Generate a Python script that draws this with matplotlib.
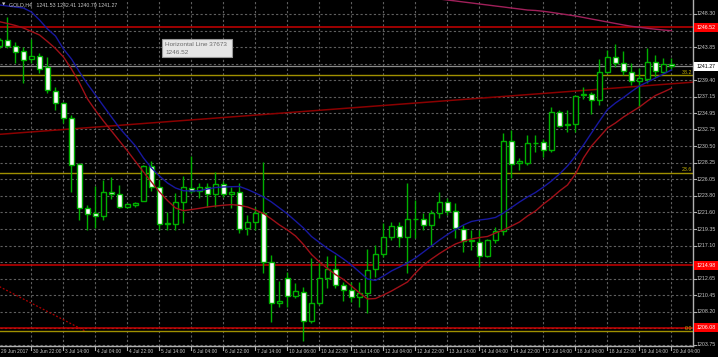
import matplotlib
matplotlib.use("Agg")
import matplotlib.pyplot as plt
import matplotlib.transforms as mtransforms
from matplotlib.patches import Rectangle

plt.rcParams['font.family'] = ['Liberation Sans', 'DejaVu Sans']

# GOLD H4 candles, one entry per bar
opens = [1243.99, 1244.80, 1244.03, 1243.32, 1242.20, 1242.64, 1241.20, 1237.97, 1236.28, 1234.26,
         1228.07, 1222.14, 1221.47, 1221.15, 1224.38, 1224.03, 1222.36, 1222.55, 1223.17, 1227.84,
         1225.05, 1219.99, 1220.03, 1223.03, 1224.84, 1224.47, 1224.97, 1224.07, 1225.42, 1224.03,
         1224.30, 1219.45, 1220.26, 1221.47, 1214.88, 1209.36, 1212.72, 1210.38, 1210.92, 1206.98,
         1209.36, 1212.72, 1213.97, 1211.82, 1211.15, 1210.25, 1210.70, 1213.93, 1215.95, 1218.24,
         1219.72, 1218.24, 1220.66, 1220.70, 1219.90, 1221.47, 1222.95, 1221.82, 1219.36, 1217.78,
         1217.65, 1215.77, 1217.88, 1219.13, 1231.24, 1228.20, 1228.20, 1230.89, 1231.11, 1229.99,
         1235.15, 1233.32, 1233.45, 1237.35, 1237.49, 1236.72, 1240.53, 1242.55, 1241.66, 1240.53,
         1239.28, 1239.55, 1241.80, 1240.53, 1241.53]
highs = [1245.07, 1247.93, 1244.57, 1243.89, 1244.89, 1243.01, 1242.55, 1238.51, 1236.49, 1234.70,
         1228.20, 1222.59, 1225.15, 1225.95, 1226.32, 1225.28, 1222.86, 1223.03, 1227.97, 1228.55,
         1225.95, 1221.69, 1224.16, 1226.49, 1229.18, 1225.59, 1225.55, 1227.07, 1225.86, 1225.05,
         1225.51, 1221.24, 1222.36, 1228.34, 1215.86, 1212.40, 1213.61, 1212.13, 1211.59, 1215.41,
         1214.74, 1215.72, 1215.86, 1212.27, 1212.27, 1212.18, 1216.67, 1217.21, 1220.21, 1220.34,
         1220.34, 1225.51, 1223.26, 1221.47, 1221.92, 1224.38, 1223.49, 1222.82, 1219.90, 1219.22,
         1219.22, 1218.01, 1219.67, 1232.32, 1232.68, 1228.87, 1232.01, 1232.01, 1231.43, 1235.82,
         1235.38, 1235.38, 1237.39, 1238.51, 1237.84, 1242.20, 1243.45, 1244.26, 1243.32, 1241.66,
         1240.99, 1243.68, 1242.78, 1242.33, 1242.41]
lows = [1243.72, 1243.72, 1241.70, 1239.01, 1241.66, 1240.31, 1237.62, 1235.38, 1233.58, 1224.38,
        1220.57, 1219.22, 1219.49, 1220.57, 1223.40, 1222.14, 1222.18, 1222.28, 1223.13, 1224.51,
        1219.22, 1219.22, 1219.22, 1220.13, 1224.16, 1223.49, 1222.28, 1222.36, 1223.62, 1222.14,
        1218.78, 1218.55, 1219.22, 1213.40, 1206.88, 1208.90, 1208.90, 1210.03, 1204.29, 1206.67,
        1209.13, 1211.38, 1211.38, 1209.71, 1209.57, 1208.90, 1208.01, 1212.94, 1215.63, 1217.88,
        1216.98, 1213.40, 1218.11, 1219.22, 1217.21, 1220.80, 1221.24, 1218.11, 1216.30, 1216.53,
        1214.29, 1215.59, 1217.43, 1218.55, 1226.18, 1227.30, 1227.97, 1229.76, 1229.09, 1229.76,
        1233.05, 1232.45, 1232.45, 1236.82, 1234.84, 1236.05, 1240.40, 1241.20, 1240.09, 1238.74,
        1235.82, 1238.97, 1239.86, 1240.31, 1240.79]
closes = [1244.80, 1244.03, 1243.22, 1242.10, 1242.64, 1240.85, 1238.07, 1236.38, 1234.26, 1227.97,
          1222.14, 1221.38, 1221.15, 1224.38, 1224.07, 1222.36, 1222.68, 1222.82, 1227.84, 1224.97,
          1220.03, 1220.10, 1223.03, 1224.97, 1224.47, 1225.01, 1224.11, 1225.42, 1224.07, 1224.30,
          1219.36, 1220.26, 1221.47, 1214.96, 1209.36, 1209.63, 1210.38, 1210.97, 1207.02, 1209.36,
          1212.72, 1213.97, 1211.82, 1211.15, 1210.25, 1210.70, 1213.84, 1215.99, 1218.24, 1219.72,
          1218.24, 1220.66, 1220.74, 1219.90, 1221.55, 1222.95, 1221.82, 1219.45, 1217.78, 1217.82,
          1215.72, 1217.88, 1219.13, 1231.24, 1228.11, 1228.55, 1230.89, 1230.97, 1229.99, 1235.15,
          1233.22, 1233.45, 1237.30, 1237.49, 1236.72, 1240.53, 1242.55, 1241.66, 1240.66, 1239.32,
          1239.64, 1241.80, 1240.62, 1241.50, 1241.27]

ma_fast = [1249.51, 1249.37, 1249.24, 1249.10, 1248.56, 1247.49, 1246.28, 1245.33, 1243.58, 1242.24,
           1240.49, 1238.87, 1237.39, 1235.91, 1234.43, 1232.95, 1231.74, 1230.53, 1228.91, 1227.57,
           1226.49, 1225.55, 1224.88, 1224.51, 1224.47, 1224.51, 1224.74, 1224.94, 1225.01, 1225.05,
           1225.08, 1224.68, 1224.20, 1223.67, 1222.99, 1222.19, 1221.38, 1220.44, 1219.49, 1218.35,
           1217.54, 1216.73, 1216.06, 1215.32, 1214.51, 1213.57, 1212.63, 1212.43, 1213.03, 1213.71,
           1214.24, 1214.78, 1215.46, 1216.26, 1217.07, 1217.88, 1218.62, 1219.29, 1219.90, 1220.37,
           1220.57, 1220.70, 1220.91, 1221.51, 1222.25, 1222.99, 1223.67, 1224.27, 1225.01, 1225.82,
           1226.76, 1227.84, 1229.18, 1230.66, 1232.28, 1233.89, 1235.44, 1236.32, 1237.06, 1237.86,
           1238.61, 1239.14, 1239.68, 1240.22, 1240.76]
ma_slow = [1247.26, 1247.02, 1246.75, 1246.41, 1245.94, 1245.47, 1244.59, 1243.65, 1242.51, 1240.89,
           1239.01, 1236.86, 1235.31, 1233.89, 1232.55, 1231.20, 1229.86, 1228.44, 1227.03, 1225.68,
           1224.34, 1223.19, 1222.19, 1221.82, 1221.98, 1222.14, 1222.32, 1222.45, 1222.56, 1222.64,
           1222.54, 1222.32, 1221.92, 1221.44, 1220.70, 1219.90, 1219.22, 1218.42, 1217.27, 1215.93,
           1214.92, 1214.04, 1213.23, 1212.56, 1211.69, 1210.75, 1209.94, 1210.00, 1210.48, 1211.01,
           1211.62, 1212.23, 1213.44, 1214.51, 1215.32, 1216.06, 1216.73, 1217.34, 1217.74, 1218.01,
           1218.21, 1218.35, 1218.82, 1219.22, 1219.76, 1220.30, 1221.11, 1221.78, 1222.72, 1223.53,
           1224.47, 1225.28, 1226.76, 1228.91, 1230.53, 1231.74, 1232.95, 1233.63, 1234.43, 1235.11,
           1235.78, 1236.59, 1237.33, 1237.80, 1238.30]
ma_long_start = 55
ma_long = [1250.31, 1250.18, 1250.05, 1249.91, 1249.78, 1249.64, 1249.51, 1249.37, 1249.24, 1249.10,
           1248.97, 1248.83, 1248.77, 1248.66, 1248.51, 1248.35, 1248.19, 1248.03, 1247.83, 1247.62,
           1247.42, 1247.22, 1247.02, 1246.82, 1246.64, 1246.51, 1246.37, 1246.25, 1246.14, 1246.05]

time_labels = ["29 Jun 2017", "30 Jun 22:00", "3 Jul 14:00", "4 Jul 04:00", "4 Jul 22:00",
               "5 Jul 14:00", "6 Jul 04:00", "6 Jul 22:00", "7 Jul 14:00", "10 Jul 06:00",
               "10 Jul 22:00", "11 Jul 14:00", "12 Jul 04:00", "12 Jul 22:00", "13 Jul 14:00",
               "14 Jul 04:00", "14 Jul 22:00", "17 Jul 14:00", "18 Jul 04:00", "18 Jul 22:00",
               "19 Jul 14:00", "20 Jul 04:00"]
label_step = 4

price_ticks = [1248.30, 1246.05, 1243.85, 1241.60, 1239.40, 1237.15, 1234.95, 1232.75, 1230.50,
               1228.25, 1226.05, 1223.80, 1221.60, 1219.35, 1217.10, 1214.90, 1212.65, 1210.45,
               1208.20, 1206.00, 1203.75]

red_lines = [1246.52, 1214.51, 1206.05]
red_labels = ["1246.52", "1214.98", "1206.08"]
bid_price = 1241.27
fib_names = ["0.0", "23.6", "38.2"]
fib_prices = [1205.63, 1226.94, 1240.02]
trend_bars = [0, 84]
trend_prices = [1232.1, 1238.9]
fib_diag_bars = [0, 10.7]
fib_diag_prices = [1211.6, 1205.63]

bull_col = "#00b000"
bg = "black"
txt = "#c8c8c8"
fs_price = 3.8
fs_time = 3.5

W, H = 718, 357
fig = plt.figure(figsize=(W / 100, H / 100), dpi=100, facecolor=bg)
ax = fig.add_axes([0, 11 / H, 693 / W, 346 / H], facecolor=bg)
ax.set_xlim(0.0625, 86.69)
ax.set_ylim(1203.61, 1250.18)

n = len(opens)
xs = list(range(n))
tick_bars = [label_step * k for k in range(len(time_labels))]

# grid
for p in price_ticks:
    ax.axhline(p, color="#5f5f5f", lw=0.8, ls=(0, (2, 2)), zorder=0)
for b in tick_bars[1:]:
    ax.axvline(b - 0.1, color="#5f5f5f", lw=0.8, ls=(0, (2, 2)), zorder=0)

# chart objects
ax.axline((trend_bars[0], trend_prices[0]), (trend_bars[1], trend_prices[1]),
          color="#8b0000", lw=1.1, zorder=1)
ax.plot(fib_diag_bars, fib_diag_prices, color="#b00000", lw=0.9, ls=(0, (1.5, 1.5)), zorder=1)
for p in red_lines:
    ax.axhline(p, color="#c80000", lw=1.1, zorder=1)
for p in fib_prices:
    ax.axhline(p, color="#a09000", lw=1.0, zorder=1)
ax.axhline(bid_price, color="#8a8a8a", lw=0.9, zorder=1)

# moving averages
ax.plot(xs, ma_fast, color="#1818a0", lw=1.0, zorder=4)
ax.plot(xs, ma_slow, color="#a01018", lw=1.0, zorder=4)
ax.plot(range(ma_long_start, ma_long_start + len(ma_long)), ma_long, color="#a0205a", lw=1.0, zorder=4)

# candles
ax.vlines(xs, lows, highs, color=bull_col, lw=1.0, zorder=2)
for i in xs:
    o, c = opens[i], closes[i]
    face = bg if c >= o else "white"
    ax.bar(i, abs(c - o), bottom=min(o, c), width=0.72, color=face,
           edgecolor=bull_col, linewidth=1.0, zorder=3)

ax.set_xticks([])
ax.set_yticks([])
for s in ["top", "left"]:
    ax.spines[s].set_visible(False)
for s in ["right", "bottom"]:
    ax.spines[s].set_color("#b0b0b0")
    ax.spines[s].set_linewidth(1.0)

# price scale
trans = mtransforms.blended_transform_factory(ax.transAxes, ax.transData)
px_w = 1 / 693
px_h = (1250.18 - 1203.61) / 346
covered = [1246.05, 1241.60, 1214.90, 1206.00]
for p in price_ticks:
    ax.plot([1.0, 1.0 + 3 * px_w], [p, p], transform=trans, color="#b0b0b0", lw=0.8, clip_on=False)
    if p in covered:
        continue
    ax.text(1.0 + 4 * px_w, p, f"{p:.2f}", transform=trans, color=txt, fontsize=fs_price,
            va="center", ha="left", clip_on=False)


def price_box(p, label, face, color):
    ax.add_patch(Rectangle((1.0 + 1 * px_w, p - 4.5 * px_h), 24 * px_w, 9 * px_h,
                           transform=trans, fc=face, ec="none", clip_on=False, zorder=5))
    ax.text(1.0 + 4 * px_w, p, label, transform=trans, color=color, fontsize=fs_price,
            va="center", ha="left", clip_on=False, zorder=6)


for p, lab in zip(red_lines, red_labels):
    price_box(p, lab, "#ff0000", "white")
price_box(bid_price, f"{bid_price:.2f}", "white", "black")

for name, p in zip(fib_names, fib_prices):
    ax.text(0.999, p + 0.4 * px_h, name, transform=trans, color="#c8b400", fontsize=fs_price,
            va="bottom", ha="right", clip_on=False)

# time scale
tx = mtransforms.blended_transform_factory(ax.transData, ax.transAxes)
for b, lab in zip(tick_bars, time_labels):
    ax.plot([b - 0.1, b - 0.1], [0, -0.012], transform=tx, color="#b0b0b0", lw=0.8, clip_on=False)
    ax.text(b + 0.15, -0.01, lab, transform=tx, color=txt, fontsize=fs_time,
            va="top", ha="left", clip_on=False)

# header and tooltip
fig.text(2 / W, 1 - 5 / H, "\u25bc", color=txt, fontsize=3.2, va="center", ha="left",
         family="DejaVu Sans")
fig.text(9 / W, 1 - 5 / H, "GOLD,H4   1241.53 1242.41 1240.79 1241.27",
         color=txt, fontsize=fs_price, va="center", ha="left")
fig.patches.append(Rectangle((162 / W, 1 - 57 / H), 70 / W, 18 / H, transform=fig.transFigure,
                             fc="#e6e6e6", ec="#9a9a9a", lw=0.8, zorder=10))
fig.text(165 / W, 1 - 44 / H, "Horizontal Line 37673", color="#6a6a6a", fontsize=4.6,
         va="center", ha="left", zorder=11)
fig.text(165 / W, 1 - 52.5 / H, "1246.52", color="#6a6a6a", fontsize=4.6,
         va="center", ha="left", zorder=11)

fig.savefig("out.png", dpi=100, facecolor=bg)
